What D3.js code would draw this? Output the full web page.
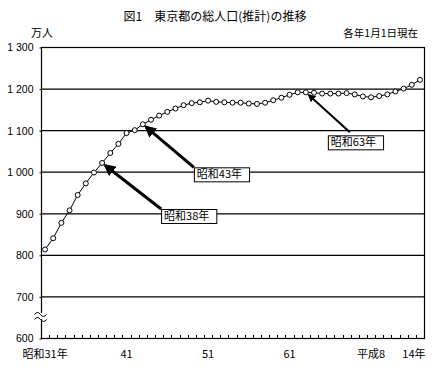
<!DOCTYPE html>
<html>
<head>
<meta charset="utf-8">
<script src="https://cdn.jsdelivr.net/npm/d3@7"></script>
<style>
  body { margin: 0; background: #fff; }
  text { font-family: "Noto Sans CJK JP", "Noto Sans", sans-serif; fill: #000; }
</style>
</head>
<body>
<div id="chart"></div>
<script>
// categories: 1 January of each year
var years = ['昭和31年','昭和32年','昭和33年','昭和34年','昭和35年','昭和36年','昭和37年','昭和38年',
  '昭和39年','昭和40年','昭和41年','昭和42年','昭和43年','昭和44年','昭和45年','昭和46年','昭和47年',
  '昭和48年','昭和49年','昭和50年','昭和51年','昭和52年','昭和53年','昭和54年','昭和55年','昭和56年',
  '昭和57年','昭和58年','昭和59年','昭和60年','昭和61年','昭和62年','昭和63年','昭和64年','平成2年',
  '平成3年','平成4年','平成5年','平成6年','平成7年','平成8年','平成9年','平成10年','平成11年',
  '平成12年','平成13年','平成14年'];

// total population (万人)
var population = [813, 840, 877, 907, 944, 972, 998, 1021, 1045, 1067, 1093, 1100, 1114, 1125, 1135,
  1144, 1152, 1160, 1165, 1167, 1171, 1168, 1167, 1166, 1166, 1164, 1163, 1166, 1172, 1178, 1185,
  1191, 1191, 1190, 1188, 1188, 1188, 1189, 1186, 1181, 1179, 1182, 1186, 1193, 1200, 1209, 1221];

var yTicks = [600, 700, 800, 900, 1000, 1100, 1200, 1300];
var xTickCats = ['昭和31年', '昭和41年', '昭和51年', '昭和61年', '平成8年', '平成14年'];
var xTickTexts = ['昭和31年', '41', '51', '61', '平成8', '14年'];

var noteCats = ['昭和38年', '昭和43年', '昭和63年'];
var noteTexts = ['昭和38年', '昭和43年', '昭和63年'];

var W = 439, H = 368;
var margin = {top: 47, right: 15, bottom: 30, left: 41};
var width = W - margin.left - margin.right,
    height = H - margin.top - margin.bottom;

var svg = d3.select('#chart').append('svg')
    .attr('width', W)
    .attr('height', H);

var x = d3.scaleBand().domain(years).range([margin.left, margin.left + width]);
var y = d3.scaleLinear().domain([600, 1300]).range([margin.top + height, margin.top]);
var cx = function(c) { return x(c) + x.bandwidth() / 2; };

// title
svg.append('text')
    .attr('x', 215).attr('y', 21)
    .attr('text-anchor', 'middle')
    .style('font-size', '12px')
    .text('図1　東京都の総人口(推計)の推移');
svg.append('text')
    .attr('x', 31).attr('y', 37)
    .style('font-size', '11px')
    .text('万人');
svg.append('text')
    .attr('x', 418).attr('y', 37)
    .attr('text-anchor', 'end')
    .style('font-size', '10.5px')
    .text('各年1月1日現在');

// gridlines
svg.append('g')
    .selectAll('line')
    .data(yTicks.filter(function(d) { return d > 600 && d < 1300; }))
    .enter().append('line')
    .attr('x1', margin.left).attr('x2', margin.left + width)
    .attr('y1', function(d) { return y(d) + 0.5; })
    .attr('y2', function(d) { return y(d) + 0.5; })
    .attr('stroke', '#000').attr('stroke-width', 1.2);

// plot frame
svg.append('rect')
    .attr('x', margin.left + 0.5).attr('y', margin.top + 0.5)
    .attr('width', width).attr('height', height)
    .attr('fill', 'none').attr('stroke', '#000').attr('stroke-width', 1.2);

// y axis
var yAxis = svg.append('g')
    .attr('transform', 'translate(' + (margin.left + 0.5) + ',0.5)')
    .call(d3.axisLeft(y).tickValues(yTicks).tickSize(2).tickPadding(6)
      .tickFormat(function(d) { return d3.format(',')(d).replace(',', ' '); }));
yAxis.select('.domain').remove();
yAxis.selectAll('text').style('font-size', '10.5px').style('font-family', '"Liberation Sans", Arial, sans-serif');

// x axis (ticks inside, at category boundaries)
var bounds = years.map(function(c) { return x(c); }).concat([margin.left + width]);
svg.append('g')
    .selectAll('line')
    .data(bounds)
    .enter().append('line')
    .attr('x1', function(d) { return Math.round(d) + 0.5; })
    .attr('x2', function(d) { return Math.round(d) + 0.5; })
    .attr('y1', margin.top + height).attr('y2', margin.top + height - 3)
    .attr('stroke', '#000');

svg.append('g')
    .selectAll('text')
    .data(xTickCats)
    .enter().append('text')
    .attr('x', function(d, i) { return cx(d) + (i === xTickCats.length - 1 ? -6 : 0); })
    .attr('y', margin.top + height + 20)
    .attr('text-anchor', 'middle')
    .style('font-size', '11px')
    .text(function(d, i) { return xTickTexts[i]; });

// axis break
var bx = margin.left + 0.5, byy = y(600) - 22;
svg.append('rect').attr('x', bx - 7).attr('y', byy - 3).attr('width', 13).attr('height', 6).attr('fill', '#fff');
[-2.5, 2.5].forEach(function(off) {
  svg.append('path')
    .attr('d', 'M' + (bx - 7) + ',' + (byy + off + 1) + ' q3,-4 6,0 t6,0')
    .attr('fill', 'none').attr('stroke', '#000').attr('stroke-width', 1);
});

// data line + markers
var line = d3.line()
    .x(function(d, i) { return cx(years[i]); })
    .y(function(d) { return y(d); });

svg.append('path')
    .datum(population)
    .attr('d', line)
    .attr('fill', 'none')
    .attr('stroke', '#000')
    .attr('stroke-width', 1);

svg.append('g')
    .selectAll('circle')
    .data(population)
    .enter().append('circle')
    .attr('cx', function(d, i) { return cx(years[i]); })
    .attr('cy', function(d) { return y(d); })
    .attr('r', 2.5)
    .attr('fill', '#fff')
    .attr('stroke', '#000')
    .attr('stroke-width', 1);

// callouts
svg.append('defs').append('marker')
    .attr('id', 'ah')
    .attr('viewBox', '0 0 10 10')
    .attr('refX', 8).attr('refY', 5)
    .attr('markerWidth', 4).attr('markerHeight', 4)
    .attr('orient', 'auto')
    .append('path').attr('d', 'M0,0L10,5L0,10z').attr('fill', '#000');

// box offset from the point, line start offset, line width
var boxOff = [[59, 46], [51, 43], [22, 43]];
var startOff = [[59, 46], [51, 43], [44, 40]];
var lw = [3, 3, 2];

noteCats.forEach(function(c, k) {
  var i = years.indexOf(c);
  var px = cx(c), py = y(population[i]);
  var sx = px + startOff[k][0], sy = py + startOff[k][1];
  var ang = Math.atan2(py - sy, px - sx);
  var tx = px - Math.cos(ang) * 4, ty = py - Math.sin(ang) * 4;
  svg.append('line')
    .attr('x1', sx).attr('y1', sy).attr('x2', tx).attr('y2', ty)
    .attr('stroke', '#000').attr('stroke-width', lw[k])
    .attr('marker-end', 'url(#ah)');
  var g = svg.append('g').attr('transform', 'translate(' + (px + boxOff[k][0]) + ',' + (py + boxOff[k][1]) + ')');
  var r = g.append('rect').attr('fill', '#fff').attr('stroke', '#000').attr('stroke-width', 1);
  var t = g.append('text').attr('x', 3).attr('y', 11).style('font-size', '11px').text(noteTexts[k]);
  var bb = t.node().getBBox();
  r.attr('x', 0.5).attr('y', 0.5).attr('width', bb.width + 10).attr('height', 14);
});
</script>
</body>
</html>
